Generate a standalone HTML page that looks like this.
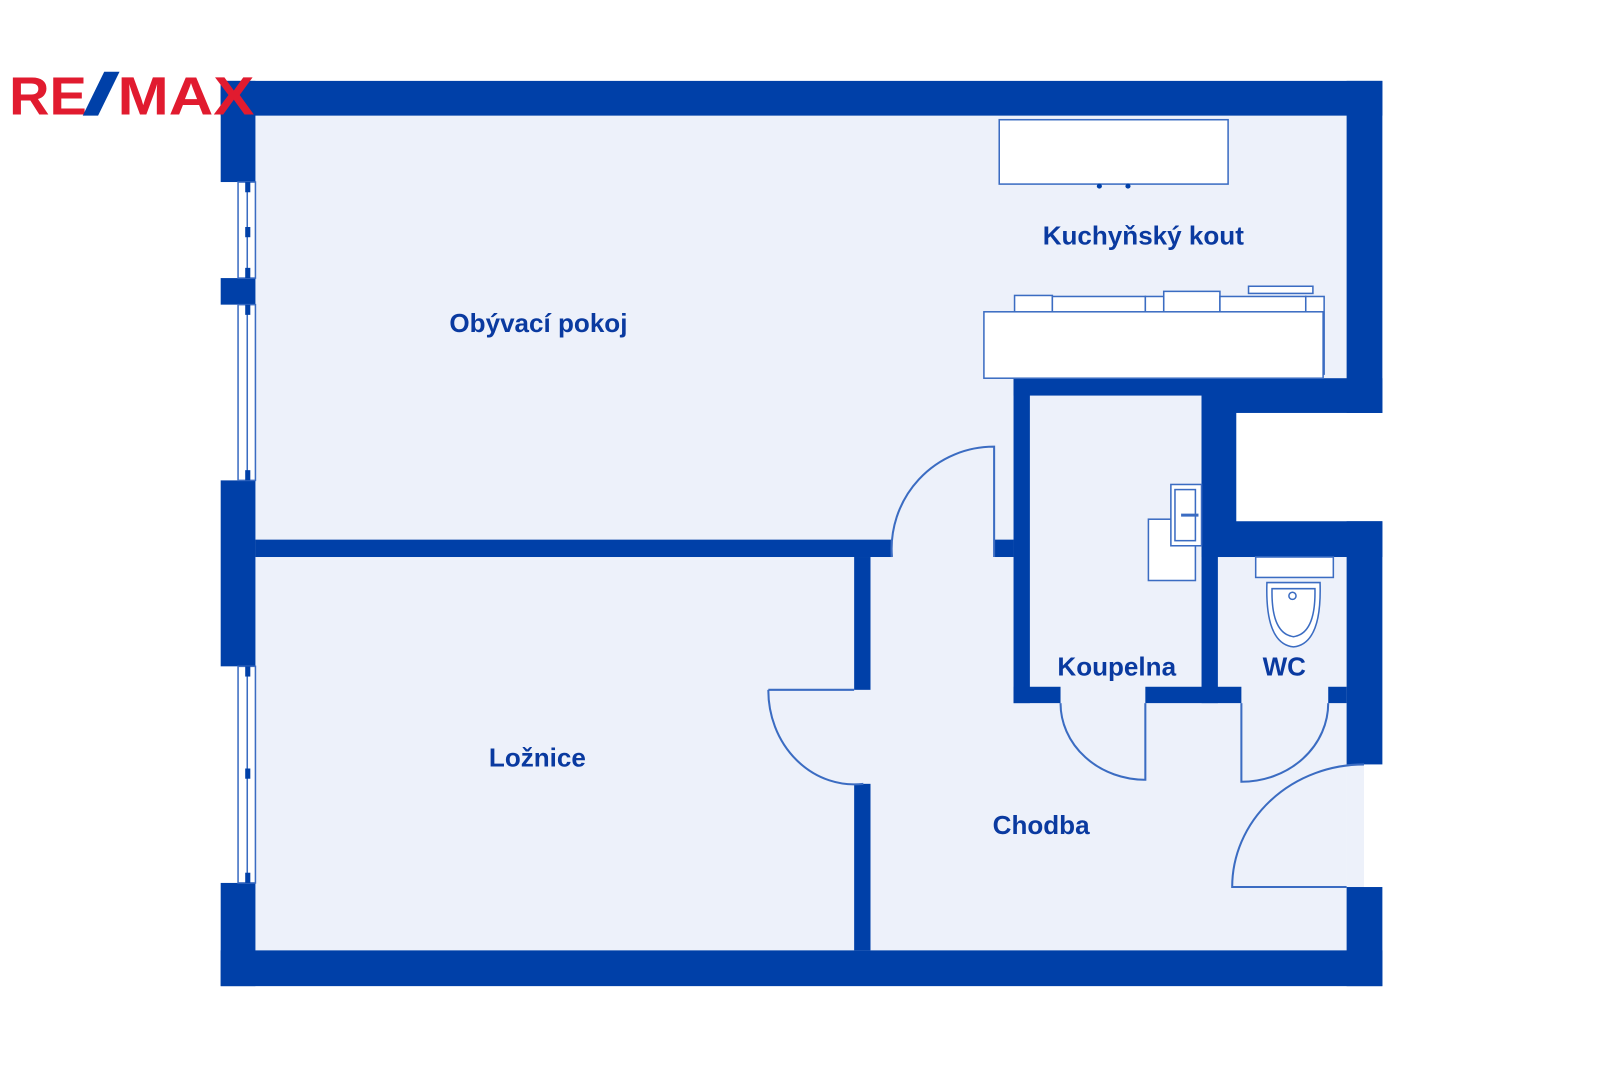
<!DOCTYPE html>
<html><head><meta charset="utf-8"><style>
html,body{margin:0;padding:0;background:#fff;}
svg{display:block;}
text{font-family:"Liberation Sans",Arial,sans-serif;font-weight:bold;}
</style></head><body>
<svg width="1600" height="1066" viewBox="0 0 1566 1043" xmlns="http://www.w3.org/2000/svg">
<rect x="0" y="0" width="1566" height="1043" fill="#fff"/>
<rect x="250" y="113" width="1068" height="817" fill="#edf1fa"/>
<rect x="1318" y="748" width="17" height="120" fill="#edf1fa"/>
<rect x="1210" y="387" width="143" height="123" fill="#fff"/>
<g fill="#0040a8">
<rect x="216" y="79" width="1137" height="34"/>
<rect x="1318" y="79" width="35" height="325"/>
<rect x="1176" y="370" width="177" height="34"/>
<rect x="1176" y="370" width="34" height="175"/>
<rect x="1176" y="510" width="177" height="35"/>
<rect x="1318" y="510" width="35" height="238"/>
<rect x="1318" y="868" width="35" height="97"/>
<rect x="216" y="930" width="1137" height="35"/>
<rect x="216" y="79" width="34" height="99"/>
<rect x="216" y="272" width="34" height="26"/>
<rect x="216" y="470" width="34" height="182"/>
<rect x="216" y="864" width="34" height="101"/>
<rect x="992" y="370" width="190" height="17"/>
<rect x="250" y="528" width="622" height="17"/>
<rect x="973" y="528" width="19" height="17"/>
<rect x="992" y="370" width="16" height="318"/>
<rect x="1176" y="370" width="16" height="318"/>
<rect x="992" y="672" width="46" height="16"/>
<rect x="1121" y="672" width="94" height="16"/>
<rect x="1300" y="672" width="18" height="16"/>
<rect x="836" y="545" width="16" height="130"/>
<rect x="836" y="767" width="16" height="163"/>
</g>
<g fill="#fff" stroke="#3b6cc2" stroke-width="1.5">
<rect x="233" y="178" width="17" height="94"/>
<rect x="233" y="298" width="17" height="172"/>
<rect x="233" y="652" width="17" height="212"/>
</g>
<g stroke="#3b6cc2" stroke-width="1.5">
<line x1="242" y1="178" x2="242" y2="272"/><line x1="242" y1="298" x2="242" y2="470"/><line x1="242" y1="652" x2="242" y2="864"/>
</g>
<g fill="#0040a8">
<rect x="240" y="178" width="5" height="10"/><rect x="240" y="222" width="5" height="10"/><rect x="240" y="262" width="5" height="10"/>
<rect x="240" y="298" width="5" height="10"/><rect x="240" y="460" width="5" height="10"/>
<rect x="240" y="652" width="5" height="10"/><rect x="240" y="752" width="5" height="10"/><rect x="240" y="854" width="5" height="10"/>
</g>
<g fill="none" stroke="#3b6cc2" stroke-width="2">
<path d="M873 545 A100 100 0 0 1 973 437 L973 545"/>
<path d="M752 675 L836 675 M752 675 A84 92 0 0 0 845 767"/>
<path d="M1038 688 A83 75 0 0 0 1121 763 L1121 688"/>
<path d="M1300 688 A85 77 0 0 1 1215 765 L1215 688"/>
<path d="M1335 748 A129 120 0 0 0 1206 868 L1318 868"/>
</g>
<g fill="#fff" stroke="#3b6cc2" stroke-width="1.5">
<rect x="978" y="117" width="224" height="63"/>
<rect x="993" y="289" width="37" height="17"/>
<rect x="1030" y="290" width="91" height="16"/>
<rect x="1121" y="290" width="18" height="16"/>
<rect x="1139" y="285" width="55" height="21"/>
<rect x="1194" y="290" width="84" height="16"/>
<rect x="1222" y="280" width="63" height="7"/>
<rect x="1278" y="290" width="18" height="76"/>
<rect x="963" y="305" width="332" height="65"/>
</g>
<g fill="#0040a8"><circle cx="1076" cy="182" r="2.5"/><circle cx="1104" cy="182" r="2.5"/></g>
<g fill="#fff" stroke="#3b6cc2" stroke-width="1.5">
<rect x="1124" y="508" width="46" height="60"/>
<rect x="1146" y="474" width="30" height="60"/>
<rect x="1150" y="479" width="20" height="50" fill="none"/>
<rect x="1229" y="545" width="76" height="20"/>
<path d="M1240 570 Q1238 630 1266 633 Q1294 630 1292 570 Z"/>
<path d="M1245 576 Q1244 620 1266 623 Q1288 620 1287 576 Z" fill="none"/>
<circle cx="1265" cy="583" r="3.5"/>
</g>
<line x1="1156" y1="504" x2="1173" y2="504" stroke="#3b6cc2" stroke-width="3"/>
<g fill="#0a3aa0" font-size="25.5">
<text x="527" y="325" text-anchor="middle">Obývací pokoj</text>
<text x="1119" y="239" text-anchor="middle">Kuchyňský kout</text>
<text x="526" y="750" text-anchor="middle">Ložnice</text>
<text x="1093" y="661" text-anchor="middle">Koupelna</text>
<text x="1257" y="661" text-anchor="middle">WC</text>
<text x="1019" y="816" text-anchor="middle">Chodba</text>
</g>
<g font-size="53" fill="#e11b2f">
<text x="9" y="112" textLength="76" lengthAdjust="spacingAndGlyphs">RE</text>
<text x="115" y="112" textLength="134" lengthAdjust="spacingAndGlyphs">MAX</text>
</g>
<polygon points="102,70 117,70 96,113 81,113" fill="#0040a8"/>
</svg>
</body></html>
